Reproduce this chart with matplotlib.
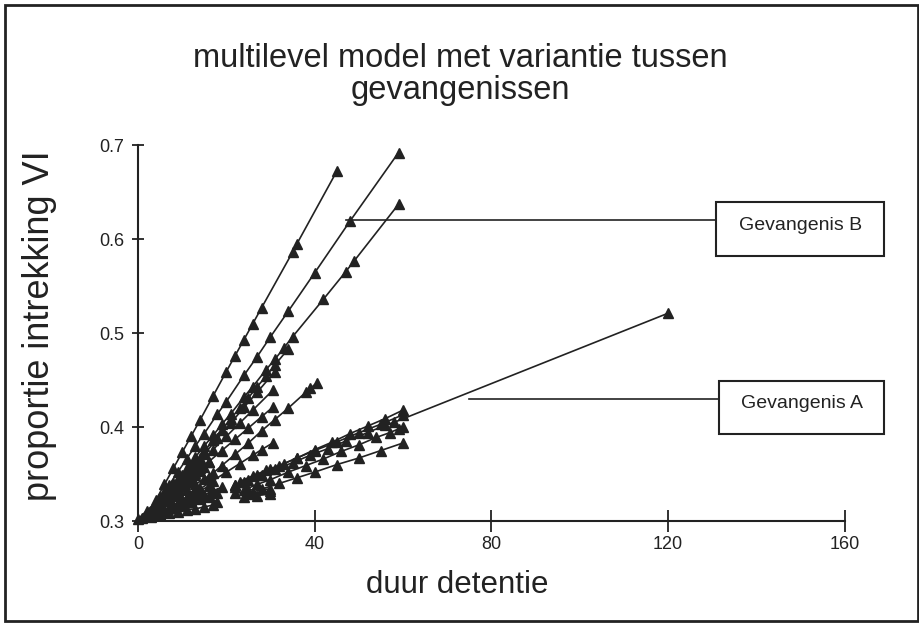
import matplotlib
matplotlib.use("Agg")
import matplotlib.pyplot as plt
from matplotlib.patches import Rectangle

# regressielijnen per gevangenis (markers = observaties)
b1_x = [2, 4, 6, 8, 10, 12, 14, 17, 20, 22, 24, 26, 28, 35, 36, 45]
b1_y = [0.305, 0.322, 0.339, 0.356, 0.373, 0.390, 0.407, 0.433, 0.459, 0.476, 0.493, 0.510, 0.527, 0.586, 0.595, 0.672]
b2_x = [3, 5, 7, 9, 11, 13, 15, 18, 20, 24, 27, 30, 34, 40, 48, 59]
b2_y = [0.311, 0.325, 0.338, 0.352, 0.366, 0.380, 0.393, 0.414, 0.427, 0.455, 0.475, 0.496, 0.523, 0.564, 0.619, 0.692]
b3_x = [3, 5, 7, 9, 11, 13, 15, 17, 19, 21, 24, 26, 29, 31, 33, 35, 42, 47, 49, 59]
b3_y = [0.310, 0.322, 0.333, 0.345, 0.356, 0.368, 0.380, 0.391, 0.403, 0.414, 0.432, 0.443, 0.461, 0.472, 0.484, 0.496, 0.536, 0.565, 0.577, 0.637]
b4_x = [3, 5, 7, 9, 11, 13, 15, 17, 19, 21, 23, 25, 27, 29, 31, 34]
b4_y = [0.306, 0.317, 0.329, 0.340, 0.352, 0.363, 0.374, 0.386, 0.397, 0.409, 0.420, 0.431, 0.443, 0.454, 0.466, 0.483]
b5_x = [3, 6, 9, 12, 15, 18, 21, 24, 27, 31]
b5_y = [0.305, 0.322, 0.338, 0.355, 0.371, 0.388, 0.404, 0.421, 0.437, 0.459]

m1_x = [8, 10, 13, 16, 19, 22, 25, 28, 31, 34, 38, 39, 40.5]
m1_y = [0.314, 0.322, 0.334, 0.347, 0.359, 0.371, 0.383, 0.396, 0.408, 0.420, 0.437, 0.441, 0.447]
m2_x = [5, 8, 11, 14, 17, 20, 23, 26, 30.5]
m2_y = [0.319, 0.333, 0.347, 0.361, 0.376, 0.390, 0.404, 0.418, 0.439]
m3_x = [4, 7, 10, 13, 16, 19, 22, 25, 28, 30.5]
m3_y = [0.315, 0.327, 0.339, 0.351, 0.363, 0.375, 0.387, 0.399, 0.411, 0.421]
m4_x = [5, 8, 11, 14, 17, 20, 23, 26, 28, 30.5]
m4_y = [0.307, 0.316, 0.325, 0.334, 0.343, 0.352, 0.361, 0.370, 0.376, 0.383]

s1_x = [0, 2, 4, 6, 8, 10, 12, 14]
s1_y = [0.302, 0.311, 0.320, 0.329, 0.338, 0.347, 0.356, 0.365]
s2_x = [1, 3, 5, 7, 9, 11, 13, 15, 17]
s2_y = [0.303, 0.309, 0.315, 0.321, 0.327, 0.333, 0.339, 0.345, 0.351]
s3_x = [2, 4, 6, 8, 10, 12, 14, 16, 18]
s3_y = [0.306, 0.309, 0.312, 0.315, 0.318, 0.321, 0.324, 0.327, 0.330]
s4_x = [3, 5, 7, 9, 11, 13, 15, 17]
s4_y = [0.305, 0.307, 0.308, 0.310, 0.312, 0.313, 0.315, 0.317]
s5_x = [4, 6, 8, 10, 12, 14]
s5_y = [0.315, 0.325, 0.336, 0.346, 0.357, 0.367]
s6_x = [6, 8, 10, 12, 14, 16]
s6_y = [0.330, 0.337, 0.343, 0.350, 0.356, 0.363]
s7_x = [2, 4, 5, 6, 7, 8, 9, 10, 11, 12, 13, 14, 15]
s7_y = [0.305, 0.313, 0.317, 0.321, 0.325, 0.329, 0.333, 0.337, 0.341, 0.345, 0.349, 0.353, 0.357]
s8_x = [3, 5, 6, 7, 8, 9, 10, 11, 12, 13, 14, 16]
s8_y = [0.304, 0.309, 0.312, 0.314, 0.317, 0.319, 0.322, 0.324, 0.327, 0.329, 0.332, 0.337]
s9_x = [4, 5, 6, 7, 8, 9, 10, 11, 12]
s9_y = [0.310, 0.316, 0.321, 0.327, 0.332, 0.338, 0.343, 0.349, 0.354]
s10_x = [6, 8, 9, 10, 11, 12, 13, 15, 17, 19]
s10_y = [0.310, 0.314, 0.316, 0.318, 0.320, 0.322, 0.324, 0.328, 0.332, 0.336]
s11_x = [5, 6, 7, 8, 9, 10, 11, 12, 13]
s11_y = [0.326, 0.331, 0.335, 0.340, 0.344, 0.349, 0.353, 0.358, 0.362]
s12_x = [4, 6, 8, 10, 12, 14, 16, 18]
s12_y = [0.308, 0.311, 0.314, 0.317, 0.320, 0.323, 0.326, 0.320]

a1_x = [22, 25, 28, 31, 35, 39, 43, 47, 52, 56, 58, 120]
a1_y = [0.338, 0.344, 0.349, 0.355, 0.362, 0.370, 0.377, 0.385, 0.394, 0.402, 0.405, 0.521]
a2_x = [22, 24, 27, 30, 33, 36, 40, 44, 48, 52, 56, 60]
a2_y = [0.338, 0.342, 0.349, 0.355, 0.361, 0.367, 0.376, 0.384, 0.393, 0.401, 0.409, 0.418]
a3_x = [23, 26, 29, 32, 36, 40, 45, 50, 55, 60]
a3_y = [0.342, 0.348, 0.354, 0.359, 0.367, 0.375, 0.384, 0.394, 0.403, 0.413]
a4_x = [25, 28, 32, 36, 40, 45, 50, 55, 60]
a4_y = [0.329, 0.334, 0.340, 0.346, 0.352, 0.360, 0.367, 0.375, 0.383]
a5_x = [24, 27, 30, 34, 38, 42, 46, 50, 54, 57, 59, 60]
a5_y = [0.333, 0.339, 0.344, 0.352, 0.359, 0.366, 0.374, 0.381, 0.389, 0.394, 0.398, 0.400]
a6_x = [22, 22, 26, 30]
a6_y = [0.336, 0.330, 0.330, 0.332]
a7_x = [24, 27, 30, 30, 25]
a7_y = [0.326, 0.327, 0.329, 0.334, 0.333]

lines = [
    (b1_x, b1_y), (b2_x, b2_y), (b3_x, b3_y), (b4_x, b4_y), (b5_x, b5_y),
    (m1_x, m1_y), (m2_x, m2_y), (m3_x, m3_y), (m4_x, m4_y),
    (s1_x, s1_y), (s2_x, s2_y), (s3_x, s3_y), (s4_x, s4_y), (s5_x, s5_y), (s6_x, s6_y),
    (s7_x, s7_y), (s8_x, s8_y), (s9_x, s9_y), (s10_x, s10_y), (s11_x, s11_y), (s12_x, s12_y),
    (a1_x, a1_y), (a2_x, a2_y), (a3_x, a3_y), (a4_x, a4_y), (a5_x, a5_y), (a6_x, a6_y), (a7_x, a7_y),
]

x_ticks = [0, 40, 80, 120, 160]
y_ticks = [0.3, 0.4, 0.5, 0.6, 0.7]

# labels: (tekst, punt op lijn, kader x0, x1, y0, y1)
label_b = ("Gevangenis B", (47, 0.620), 131, 169, 0.582, 0.639)
label_a = ("Gevangenis A", (75, 0.431), 131.5, 169, 0.393, 0.449)

ink = "#222222"
plt.rcParams["font.family"] = ["Liberation Sans", "DejaVu Sans"]

fig = plt.figure(figsize=(9.2, 6.23), dpi=100)
ax = fig.add_axes([0.15, 0.1637, 0.768, 0.6035])

for xs, ys in lines:
    ax.plot(xs, ys, color=ink, lw=1.2, marker="^", ms=6.5, mfc=ink, mec=ink, clip_on=False)

for text, (px, py), x0, x1, y0, y1 in [label_b, label_a]:
    ymid = y1 - (y1 - y0) / 3
    ax.plot([px, x0], [ymid, ymid], color=ink, lw=1.2, clip_on=False)
    ax.add_patch(Rectangle((x0, y0), x1 - x0, y1 - y0, fill=False, ec=ink, lw=1.5, clip_on=False))
    ax.text((x0 + x1) / 2, (y0 + y1) / 2 + 0.004, text, ha="center", va="center",
            fontsize=14, color=ink)

ax.set_xlim(0, 160)
ax.set_ylim(0.3, 0.7)
ax.set_xticks(x_ticks)
ax.set_yticks(y_ticks)
ax.set_xticklabels([str(t) for t in x_ticks])
ax.set_yticklabels([f"{t:.1f}" for t in y_ticks])
for side in ["top", "right"]:
    ax.spines[side].set_visible(False)
for side in ["left", "bottom"]:
    ax.spines[side].set_linewidth(1.5)
    ax.spines[side].set_color(ink)
ax.tick_params(axis="x", direction="inout", length=16, width=1.3, pad=3, labelsize=13, colors=ink)
ax.tick_params(axis="y", direction="inout", length=8, width=1.3, pad=6, labelsize=13, colors=ink)

fig.text(0.5, 0.88, "multilevel model met variantie tussen\ngevangenissen",
         ha="center", va="center", fontsize=23.5, color=ink, linespacing=1.05)
fig.text(0.043, 0.478, "proportie intrekking VI", rotation=90,
         ha="center", va="center", fontsize=26, color=ink)
fig.text(0.497, 0.061, "duur detentie", ha="center", va="center", fontsize=22.5, color=ink)

fig.patches.append(Rectangle((0.0054, 0.003), 0.992, 0.989, transform=fig.transFigure,
                             fill=False, ec=ink, lw=2))

fig.savefig("out.png", dpi=100)
